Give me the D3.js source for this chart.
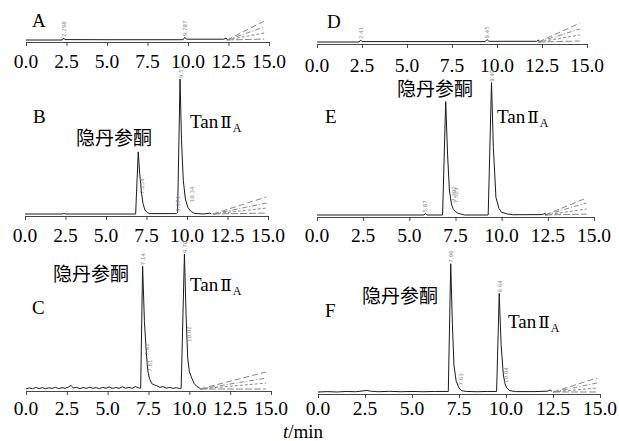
<!DOCTYPE html>
<html><head><meta charset="utf-8">
<script src="https://cdn.jsdelivr.net/npm/d3@7"></script>
<style>body{margin:0;background:#fff}svg{display:block}</style>
</head><body><svg id="c" width="619" height="441"></svg>
<script>
// ---------- data ----------
const timeTicks = [0, 2.5, 5, 7.5, 10, 12.5, 15];
const panelLetters = ["A", "B", "C", "D", "E", "F"];
const compoundName = "隐丹参酮";
const tanName = ["Tan", "Ⅱ", "A"];
const axisTitle = ["t", "/min"];

// [time (min), intensity (rel.)]
const traceA = [[0,0],[2.25,0],[2.32,1.5],[2.4,0.3],[5,0.2],[9.7,0.2],[9.8,2],[9.9,0.6],[12.2,0.6],[12.35,1.5],[12.4,0.5]];
const traceB = [[0,0],[2.3,0],[2.4,0.4],[2.5,0],[6.83,0],[6.99,46],[7.08,30],[7.18,17],[7.28,8],[7.4,3],[7.55,1],[7.7,0.3],[9.35,0.3],[9.42,1],[9.57,100],[9.66,55],[9.77,25],[9.9,11],[10.05,5],[10.2,2.5],[10.3,1.5],[10.45,0.5],[11.0,0],[11.4,0.6],[11.5,0]];
const traceC = [[0,0],[0.2,0.8],[0.4,0.2],[0.6,1.2],[0.8,0.3],[1.0,1.0],[1.2,0.2],[1.4,0.9],[1.6,0.4],[1.8,1.3],[2.0,0.3],[2.2,1.0],[2.4,0.5],[2.6,1.5],[2.75,2.6],[2.9,0.8],[3.1,1.2],[3.3,0.3],[3.5,1.1],[3.7,0.4],[3.9,1.4],[4.1,0.5],[4.3,1.0],[4.5,0.3],[4.7,1.2],[4.9,0.6],[5.1,1.5],[5.3,0.4],[5.5,1.1],[5.7,0.5],[5.9,1.6],[6.1,0.6],[6.3,1.2],[6.5,0.5],[6.7,1.8],[6.9,0.8],[7.02,0.6],[7.14,91],[7.25,50],[7.35,30],[7.45,14],[7.55,8],[7.7,4],[7.85,3],[8.0,2.5],[8.2,1.2],[8.4,1.8],[8.6,0.6],[8.8,1.2],[9.0,0.5],[9.2,0.9],[9.42,0.4],[9.5,0.6],[9.7,100],[9.8,55],[9.9,23],[10.0,13],[10.15,8],[10.3,4],[10.45,2],[10.65,0.5]];
const traceD = [[0,0],[2.35,0],[2.42,1.5],[2.5,0.3],[9.35,0.3],[9.45,1.8],[9.55,0.5],[12.2,0.5],[12.3,1.5],[12.35,0.5]];
const traceE = [[0,0],[5.8,0],[5.87,1.2],[5.95,0],[6.8,0],[6.97,84],[7.07,45],[7.17,18.5],[7.28,8],[7.39,4],[7.5,2.5],[7.6,1.5],[7.77,0.8],[8.0,0],[9.27,0],[9.45,98],[9.55,50],[9.69,13],[9.85,5],[9.99,2],[10.3,0.8],[10.6,0.2],[12.2,0.3],[12.35,1.2],[12.4,0]];
const traceF = [[0,0],[0.5,0.3],[1,0],[1.5,0.4],[2.0,0.2],[2.4,0.8],[2.6,1.2],[2.8,0.6],[3.2,0.2],[3.8,0.5],[4.4,0.2],[5.0,0.4],[5.6,0.2],[6.2,0.4],[6.93,0.4],[7.06,95],[7.15,50],[7.23,20],[7.35,8],[7.5,3],[7.63,1],[7.9,0.4],[8.5,0.2],[9.0,0.4],[9.5,0.4],[9.64,73],[9.74,35],[9.86,12.6],[9.95,6],[10.04,3],[10.2,1],[10.5,0.3],[11.5,0.3],[12.2,0.6],[12.35,1.5],[12.45,0.5]];

// gradient/fan lines drawn by the software at the run end
const fanStarts = [12.4, 11.6, 10.65, 12.3, 12.35, 12.5];
const fanEnds = [14.7, 14.9, 14.7, 14.6, 14.6, 14.85];
const fanHeightsA = [14, 9.6, 5.2, 0.7];
const fanHeightsB = [12.6, 8.1, 4.4, 0.7];
const fanHeightsC = [12.6, 8.1, 4.4, 0];
const fanHeightsD = [14, 9.6, 5.2, 0.7];
const fanHeightsE = [12.6, 8.9, 4.4, 0.7];
const fanHeightsF = [10.4, 6.7, 3, 0];

// small retention-time tags [time, intensity, text]
const tagsA = [[2.32, 1.5, "2.298"], [9.8, 2, "9.787"]];
const tagsB = [[7.22, 14, "7.254"], [9.42, 1, "9.374"], [9.6, 100, "9.57"], [10.3, 8, "10.34"]];
const tagsC = [[7.16, 91, "7.14"], [7.42, 24, "7.42"], [7.6, 12, "7.61"], [9.72, 100, "9.70"], [9.98, 34, "10.02"]];
const tagsD = [[2.42, 1.5, "2.41"], [9.45, 1.8, "9.45"]];
const tagsE = [[5.87, 1.2, "5.87"], [7.4, 9, "7.392"], [7.52, 8, "7.523"], [9.48, 98, "9.45"]];
const tagsF = [[7.09, 95, "7.06"], [7.58, 4, "7.63"], [9.67, 73, "9.64"], [10.02, 6, "10.04"]];

// ---------- layout ----------
const traces = [traceA, traceB, traceC, traceD, traceE, traceF];
const fanHeights = [fanHeightsA, fanHeightsB, fanHeightsC, fanHeightsD, fanHeightsE, fanHeightsF];
const tags = [tagsA, tagsB, tagsC, tagsD, tagsE, tagsF];
const layout = [
  {x0:26, x1:269, base:40, tickY:68, letter:[32,27]},
  {x0:25, x1:268, base:214, tickY:242, letter:[33,123], crypto:[114,145], tan:[190,128]},
  {x0:26, x1:271, base:389, tickY:415, letter:[32,314], crypto:[91,281], tan:[190,291]},
  {x0:317, x1:587, base:42, tickY:72, letter:[327,28]},
  {x0:317, x1:594, base:215, tickY:242, letter:[325,123], crypto:[435,96], tan:[497,123]},
  {x0:318, x1:600, base:392, tickY:415, letter:[325,317], crypto:[400,303], tan:[508,328]}
];
const serif = "'Liberation Serif','Times New Roman',serif";
const cjk = "'Noto Sans CJK SC',sans-serif";
const svg = d3.select("#c");
const dashes = ["6,3", "5,2,1,2", "3,2", "7,2"];

layout.forEach((L, i) => {
  const x = d3.scaleLinear().domain([0, 15]).range([L.x0, L.x1]);
  const y = d3.scaleLinear().domain([0, 100]).range([L.base, L.base - 135]);
  const g = svg.append("g");

  // axis
  const ax = g.append("g").attr("transform", `translate(0,${L.base + 2})`);
  ax.call(d3.axisBottom(x).tickValues(d3.range(0, 15.01, 0.5)).tickSize(2).tickSizeOuter(0).tickFormat(""));
  ax.call(d3.axisBottom(x).tickValues(timeTicks).tickSize(4).tickSizeOuter(0).tickFormat(""));
  ax.selectAll("path,line").attr("stroke", "#333").attr("stroke-width", 0.9);

  // tick labels
  g.selectAll("text.tl").data(timeTicks).enter().append("text")
    .attr("x", d => x(d)).attr("y", L.tickY)
    .attr("text-anchor", "middle").attr("font-family", serif).attr("font-size", 19.5)
    .text(d => d3.format(".1f")(d));

  // fan lines
  fanHeights[i].forEach((h, k) => {
    g.append("line")
      .attr("x1", x(fanStarts[i])).attr("y1", y(0))
      .attr("x2", x(fanEnds[i])).attr("y2", y(h))
      .attr("stroke", "#888").attr("stroke-width", 1)
      .attr("stroke-dasharray", dashes[k]);
  });

  // trace
  g.append("path").datum(traces[i])
    .attr("d", d3.line().x(d => x(d[0])).y(d => y(d[1])))
    .attr("fill", "none").attr("stroke", "#1a1a1a").attr("stroke-width", 1);

  // tags
  tags[i].forEach(t => {
    const tx = x(t[0]) + 2, ty = y(t[1]) - 1;
    g.append("text").attr("transform", `translate(${tx},${ty}) rotate(-90)`)
      .attr("font-family", "'DejaVu Sans',sans-serif").attr("font-size", 5.5)
      .attr("fill", "#888").text(t[2]);
  });

  // panel letter
  g.append("text").attr("x", L.letter[0]).attr("y", L.letter[1])
    .attr("font-family", serif).attr("font-size", 19).text(panelLetters[i]);

  if (L.crypto) {
    g.append("text").attr("x", L.crypto[0]).attr("y", L.crypto[1])
      .attr("text-anchor", "middle").attr("font-family", cjk).attr("font-size", 19)
      .text(compoundName);
    const tt = g.append("text").attr("x", L.tan[0]).attr("y", L.tan[1])
      .attr("font-family", serif).attr("font-size", 19);
    tt.append("tspan").text(tanName[0]);
    tt.append("tspan").attr("dx", 2).attr("font-family", "'DejaVu Serif',serif").attr("font-size", 17).text(tanName[1]);
    tt.append("tspan").attr("font-size", 12).attr("dy", 4).attr("dx", 1).text(tanName[2]);
  }
});

// axis title
const at = svg.append("text").attr("x", 303).attr("y", 438)
  .attr("text-anchor", "middle").attr("font-family", serif).attr("font-size", 19);
at.append("tspan").attr("font-style", "italic").text(axisTitle[0]);
at.append("tspan").text(axisTitle[1]);
</script></body></html>
